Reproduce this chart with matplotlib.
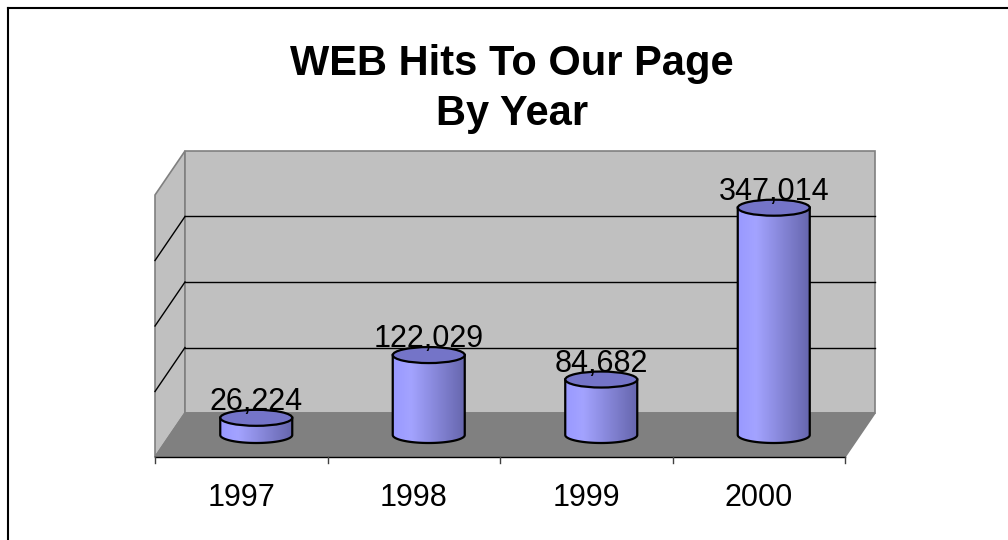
import numpy as np
import matplotlib
matplotlib.use('Agg')
import matplotlib.pyplot as plt
from matplotlib.patches import Polygon, Ellipse
from matplotlib.lines import Line2D

plt.rcParams['font.family'] = ['Liberation Sans', 'DejaVu Sans']

# chart data
years = ['1997', '1998', '1999', '2000']
hits = [26224, 122029, 84682, 347014]
grid_values = [100000, 200000, 300000]
y_max = 400000

# layout in pixels (figure is 1008 x 540)
W, H = 1008, 540
px_x0 = 155          # front-left corner of floor
px_cat = 172.5       # pixels per category
px_y0 = 457          # front floor line
px_val = 65.5 / 100000   # pixels per value unit
depth_px = (30, 44)  # 3d depth offset (right, up)

fig = plt.figure(figsize=(W / 100, H / 100), dpi=100)
ax = fig.add_axes([0, 0, 1, 1])
ax.set_axis_off()

# depth in data units
dx = depth_px[0] / px_cat
dy = depth_px[1] / px_val

edge_gray = '#808080'
n = len(years)

# left side wall
ax.add_patch(Polygon([(0, 0), (dx, dy), (dx, dy + y_max), (0, y_max)],
                     closed=True, facecolor='#c0c0c0', edgecolor=edge_gray, lw=1.2, zorder=1))
# back wall
ax.add_patch(Polygon([(dx, dy), (n + dx, dy), (n + dx, dy + y_max), (dx, dy + y_max)],
                     closed=True, facecolor='#c0c0c0', edgecolor=edge_gray, lw=1.2, zorder=1))
# floor
ax.add_patch(Polygon([(0, 0), (n, 0), (n + dx, dy), (dx, dy)],
                     closed=True, facecolor='#808080', edgecolor=edge_gray, lw=1.2, zorder=2))

# gridlines on back and side walls
for v in grid_values:
    ax.plot([dx, n + dx], [dy + v, dy + v], color='black', lw=1, zorder=1.5)
    ax.plot([0, dx], [v, dy + v], color='black', lw=1, zorder=1.5)

# front axis line and ticks
tick_len = 6 / px_val
ax.plot([0, n], [0, 0], color='black', lw=1, zorder=3)
for i in range(n + 1):
    ax.plot([i, i], [0, -tick_len], color='#404040', lw=1, zorder=3)

# cylinder colours
grad_pos = [0.0, 0.25, 1.0]
grad_cols = np.array([[0.60, 0.60, 1.00],
                      [0.64, 0.64, 1.00],
                      [0.40, 0.40, 0.68]])
xs = np.linspace(0, 1, 200)
grad = np.stack([np.interp(xs, grad_pos, grad_cols[:, k]) for k in range(3)], axis=-1)[None, :, :]
top_col = '#7474c8'

r = 36 / px_cat          # cylinder radius in category units
e_h = 8 / px_val         # half height of ellipse in value units

for i, (yr, v) in enumerate(zip(years, hits)):
    cx = i + 0.5 + dx / 2
    base = dy / 2
    top = base + v
    t = np.linspace(np.pi, 2 * np.pi, 60)
    arc = np.column_stack([cx + r * np.cos(t), base + e_h * np.sin(t)])
    body = np.vstack([[cx - r, top], arc, [cx + r, top]])
    body_patch = Polygon(body, closed=True, facecolor='none', edgecolor='black', lw=1.6, zorder=5)
    ax.add_patch(body_patch)
    im = ax.imshow(grad, extent=[cx - r, cx + r, base - e_h, top], aspect='auto',
                   interpolation='bilinear', zorder=4)
    im.set_clip_path(body_patch)
    ax.add_patch(Ellipse((cx, top), 2 * r, 2 * e_h, facecolor=top_col,
                         edgecolor='black', lw=1.6, zorder=6))
    # value label
    ax.text(cx, top + 12000, f'{v:,}', ha='center', va='baseline', fontsize=22, zorder=7)
    # category label
    ax.text(i + 0.5, -(506 - px_y0) / px_val, yr, ha='center', va='baseline', fontsize=22)

# map data coords onto the pixel layout
ax.set_xlim(-px_x0 / px_cat, (W - px_x0) / px_cat)
ax.set_ylim(-(H - px_y0) / px_val, px_y0 / px_val)

# title
fig.text(512 / W, 1 - 75 / H, 'WEB Hits To Our Page', ha='center', va='baseline',
         fontsize=30, fontweight='bold')
fig.text(512 / W, 1 - 125 / H, 'By Year', ha='center', va='baseline',
         fontsize=30, fontweight='bold')

# chart border (left and top edges visible)
fig.add_artist(Line2D([8 / W, 8 / W], [0, 1 - 8 / H], color='black', lw=1.5))
fig.add_artist(Line2D([8 / W, 1], [1 - 8 / H, 1 - 8 / H], color='black', lw=1.5))

fig.savefig('out.png', dpi=100)
